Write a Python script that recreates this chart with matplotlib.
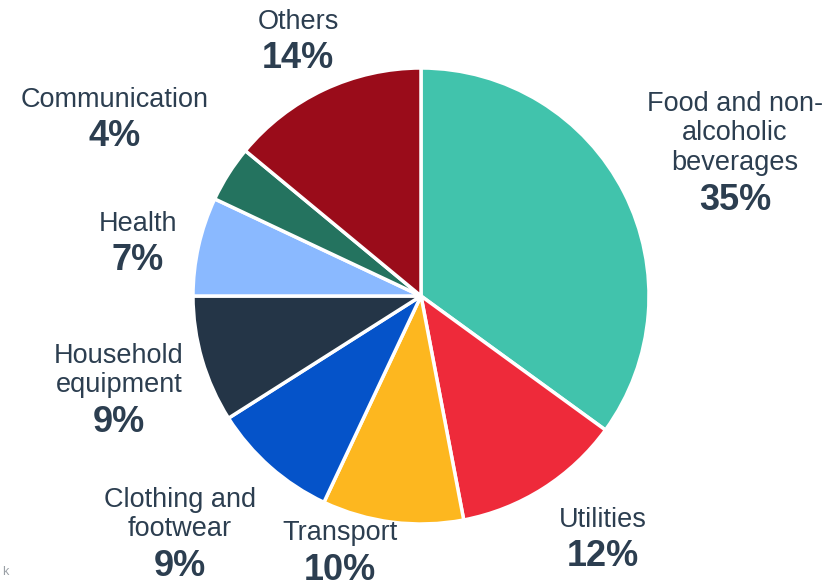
import matplotlib
matplotlib.use("Agg")
import matplotlib.pyplot as plt

categories = ["Food and non-\nalcoholic\nbeverages", "Utilities", "Transport",
              "Clothing and\nfootwear", "Household\nequipment", "Health",
              "Communication", "Others"]
shares = [35, 12, 10, 9, 9, 7, 4, 14]
colors = ["#41c3ac", "#ee2a3a", "#fdb71f", "#0553c9", "#243547", "#8ab9ff",
          "#24735f", "#9a0c1a"]

# label anchor: center x and baseline of the first name line, in pixels from top-left
label_pos = [(735, 111), (603, 527), (340, 540), (180, 507), (119, 363),
             (138, 231), (115, 107), (298, 29)]

W, H = 833, 582
fig = plt.figure(figsize=(W / 100, H / 100), dpi=100)
cx, cy, r = 421, 296, 228
ax = fig.add_axes([(cx - r) / W, (H - cy - r) / H, 2 * r / W, 2 * r / H])
ax.pie(shares, colors=colors, startangle=90, counterclock=False, radius=1,
       wedgeprops=dict(edgecolor="white", linewidth=2.5))
ax.set_xlim(-1.0, 1.0)
ax.set_ylim(-1.0, 1.0)
ax.set_aspect("equal")
ax.axis("off")

txt = "#2c3e50"
line_pitch = 29.5
pct_gap = 39.5
for name, val, (x, y) in zip(categories, shares, label_pos):
    lines = name.split("\n")
    for i, line in enumerate(lines):
        fig.text(x / W, 1 - (y + i * line_pitch) / H, line, ha="center",
                 va="baseline", fontsize=19.5, color=txt, family="Liberation Sans")
    y_pct = y + (len(lines) - 1) * line_pitch + pct_gap
    fig.text(x / W, 1 - y_pct / H, f"{val}%", ha="center", va="baseline",
             fontsize=26, fontweight="bold", color=txt, family="Liberation Sans")

fig.text(2 / W, 1 - 578 / H, "k", ha="left", va="bottom", fontsize=9,
         color="#9aa0a6", family="Liberation Sans")

fig.savefig("out.png", dpi=100, facecolor="white")
